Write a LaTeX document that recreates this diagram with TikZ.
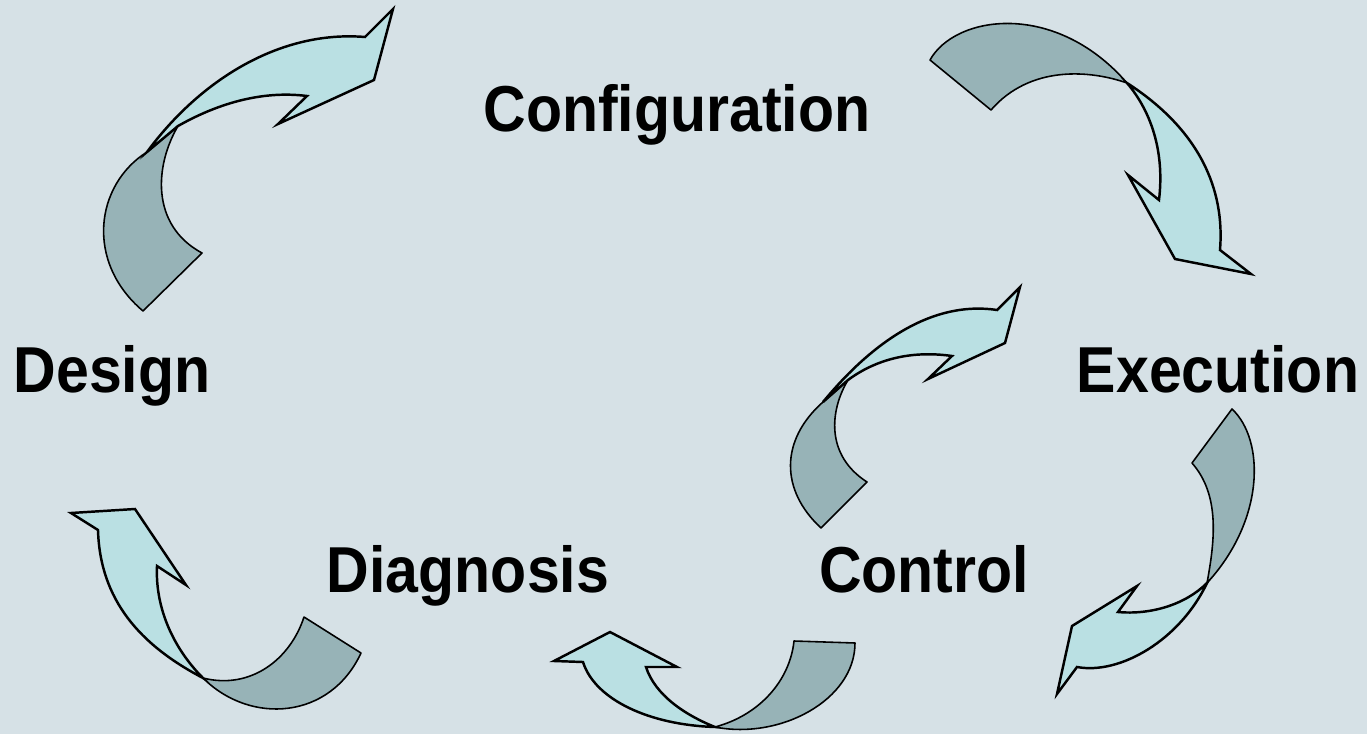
\documentclass[tikz,border=0pt]{standalone}
\usepackage{fontspec}
\setmainfont{Liberation Sans}
\usepackage{tikz}
\definecolor{slidebg}{RGB}{214,225,230}
\definecolor{tailcol}{RGB}{151,179,183}
\definecolor{headcol}{RGB}{186,224,227}
\tikzset{
  stagetext/.style = {anchor=base, inner sep=0pt,
                      font=\fontsize{33.6}{40}\selectfont\bfseries},
  tailpart/.style  = {draw=black, fill=tailcol, line width=0.9pt, line join=round},
  headpart/.style  = {draw=black, fill=headcol, line width=1.4pt, line join=miter},
}
\newcommand{\tall}[1]{\scalebox{1}[1.1]{#1}}

\begin{document}
\begin{tikzpicture}[x=0.02cm, y=-0.02cm]
    \fill[slidebg] (0,0) rectangle (1367,734);
    \useasboundingbox (0,0) rectangle (1367,734);
    % stage names
    \node[stagetext] (conf) at (677,131) {\tall{Configuration}};
    \node[stagetext] (des)  at (112,392) {\tall{Design}};
    \node[stagetext] (exe)  at (1218,392) {\tall{Execution}};
    \node[stagetext] (diag) at (468,592) {\tall{Diagnosis}};
    \node[stagetext] (ctrl) at (924,592) {\tall{Control}};
    % design -> configuration
    \draw[tailpart] (143,311) .. controls (85,262) and (95,185) .. (147,152) -- (178,126)
      .. controls (155,165) and (150,225) .. (202,253) -- cycle;
    \draw[headpart] (147,152) .. controls (200,80) and (280,30) .. (365,37) -- (393,9)
      -- (374,80) -- (278,124) -- (307,96) .. controls (260,90) and (215,105) .. (178,126) -- cycle;
    % configuration -> execution
    \draw[tailpart] (930,60) .. controls (955,15) and (1055,0) .. (1127,83)
      .. controls (1090,70) and (1030,65) .. (991,110) -- cycle;
    \draw[headpart] (1127,83) .. controls (1200,130) and (1225,190) .. (1220,250) -- (1251,274)
      -- (1175,259) -- (1128,175) -- (1159,200) .. controls (1165,150) and (1150,110) .. (1127,83) -- cycle;
    % execution -> control
    \draw[tailpart] (1232,409) .. controls (1265,440) and (1265,520) .. (1207,583)
      .. controls (1215,540) and (1220,495) .. (1192,463) -- cycle;
    \draw[headpart] (1207,583) .. controls (1180,640) and (1120,675) .. (1077,667) -- (1057,694)
      -- (1072,626) -- (1137,586) -- (1118,612) .. controls (1150,615) and (1185,605) .. (1207,583) -- cycle;
    % control -> diagnosis
    \draw[tailpart] (794,641) -- (855,643) .. controls (855,700) and (780,740) .. (715,727)
      .. controls (760,715) and (790,680) .. (794,641) -- cycle;
    \draw[headpart] (715,727) .. controls (650,725) and (595,700) .. (583,662) -- (554,661)
      -- (610,632) -- (677,667) -- (646,667) .. controls (655,695) and (685,715) .. (715,727) -- cycle;
    % diagnosis -> design
    \draw[tailpart] (304,617) -- (361,653) .. controls (330,720) and (250,725) .. (203,678)
      .. controls (250,690) and (290,660) .. (304,617) -- cycle;
    \draw[headpart] (203,678) .. controls (140,645) and (100,600) .. (98,530) -- (71,513)
      -- (135,509) -- (186,585) -- (157,566) .. controls (155,610) and (175,650) .. (203,678) -- cycle;
    % control -> execution (inner)
    \draw[tailpart] (821,528) .. controls (780,490) and (780,440) .. (823,402) -- (848,380)
      .. controls (830,410) and (825,455) .. (867,482) -- cycle;
    \draw[headpart] (823,402) .. controls (870,345) and (930,300) .. (997,310) -- (1020,287)
      -- (1005,343) -- (928,379) -- (952,356) .. controls (910,350) and (875,360) .. (848,380) -- cycle;
\end{tikzpicture}
\end{document}
